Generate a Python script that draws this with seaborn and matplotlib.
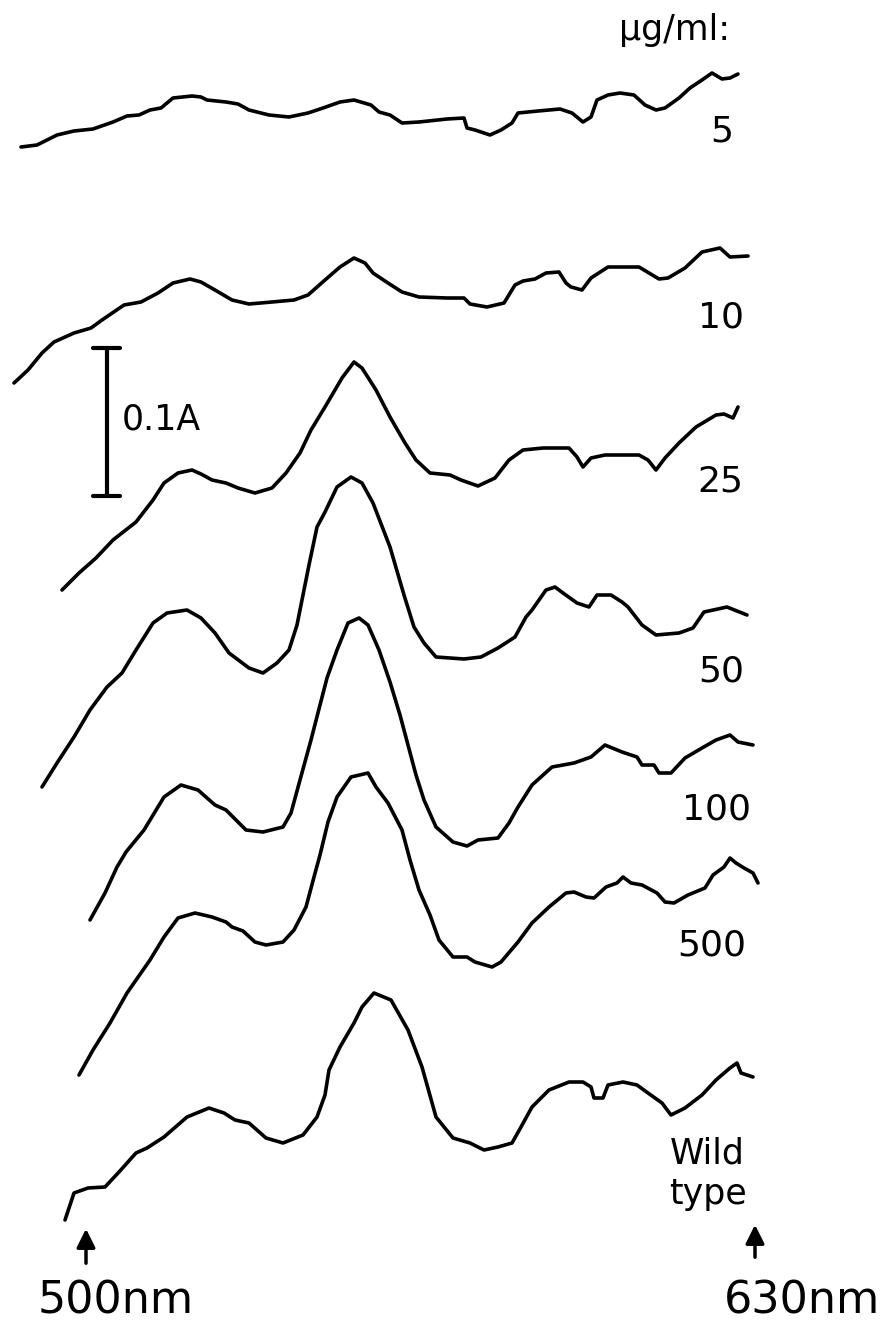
import numpy as np
import pandas as pd
import matplotlib
matplotlib.use("Agg")
import matplotlib.pyplot as plt
import seaborn as sns

# Spectra (stacked, in page pixel units: x right, y down)
x_5 = [21, 37, 57, 74, 93, 113, 127, 139, 150, 161, 173, 192, 201, 207, 226, 238, 249, 269, 289, 308,
       323, 340, 354, 371, 379, 390, 402, 419, 447, 464, 467, 475, 490, 501, 512, 518, 538, 560, 572, 583,
       591, 597, 608, 620, 634, 645, 656, 665, 679, 690, 702, 712, 722, 730, 738]
y_5 = [147, 145, 135, 131, 129, 122, 116, 115, 110, 108, 98, 96, 97, 100, 102, 104, 110, 115, 117, 113,
       108, 102, 100, 105, 112, 115, 123, 122, 119, 118, 128, 130, 135, 130, 123, 113, 111, 109, 113, 122,
       117, 100, 95, 93, 95, 105, 110, 108, 98, 88, 80, 73, 79, 78, 74]

x_10 = [14, 28, 42, 54, 74, 91, 102, 124, 141, 158, 173, 190, 201, 215, 232, 249, 272, 294, 308, 325,
        340, 354, 365, 373, 388, 402, 419, 447, 464, 470, 487, 504, 515, 523, 535, 546, 559, 566, 571, 582,
        591, 608, 639, 659, 668, 685, 702, 720, 730, 748]
y_10 = [383, 370, 353, 342, 333, 328, 320, 305, 302, 293, 283, 279, 282, 290, 300, 304, 302, 300, 295, 280,
        267, 258, 263, 273, 283, 292, 297, 298, 298, 304, 307, 303, 285, 281, 279, 273, 272, 283, 287, 290,
        278, 267, 267, 279, 278, 268, 252, 248, 257, 256]

x_25 = [62, 79, 96, 113, 136, 153, 164, 178, 192, 201, 212, 226, 238, 255, 272, 286, 300, 311, 325, 342,
        354, 362, 376, 390, 405, 416, 430, 450, 461, 478, 495, 509, 523, 543, 569, 577, 583, 591, 605, 639,
        648, 656, 665, 679, 696, 716, 724, 733, 738]
y_25 = [590, 573, 558, 540, 522, 500, 483, 473, 470, 474, 480, 483, 488, 493, 488, 473, 453, 430, 407, 378,
        362, 368, 390, 417, 443, 460, 473, 475, 480, 486, 478, 460, 450, 448, 448, 457, 467, 458, 455, 455,
        460, 470, 458, 443, 427, 415, 414, 418, 407]

x_50 = [42, 57, 74, 90, 107, 122, 136, 153, 167, 187, 201, 215, 229, 249, 263, 277, 289, 297, 302, 309,
        317, 325, 337, 351, 362, 373, 390, 404, 414, 424, 436, 464, 481, 498, 515, 526, 532, 546, 555, 563,
        577, 589, 597, 611, 622, 628, 642, 656, 679, 693, 704, 727, 747]
y_50 = [787, 763, 737, 710, 687, 673, 650, 623, 613, 610, 618, 633, 653, 668, 673, 663, 650, 625, 600, 565,
        527, 512, 487, 477, 483, 503, 547, 595, 627, 643, 657, 659, 657, 648, 637, 617, 610, 590, 587, 593,
        603, 607, 595, 595, 602, 607, 625, 635, 633, 628, 612, 607, 615]

x_100 = [90, 105, 117, 126, 144, 164, 181, 198, 215, 226, 238, 246, 263, 283, 291, 300, 311, 320, 327, 337,
         348, 359, 368, 379, 390, 400, 408, 416, 424, 436, 453, 467, 478, 498, 509, 518, 532, 552, 574, 591,
         605, 622, 637, 642, 654, 659, 671, 685, 702, 716, 730, 738, 753]
y_100 = [920, 893, 867, 852, 830, 797, 785, 790, 805, 810, 822, 830, 832, 827, 813, 780, 740, 705, 678, 650,
         623, 618, 625, 650, 682, 715, 745, 775, 800, 827, 842, 846, 840, 838, 823, 807, 785, 767, 763, 757,
         745, 752, 757, 765, 765, 773, 773, 758, 748, 740, 735, 742, 745]

x_500 = [79, 93, 110, 127, 150, 164, 178, 195, 212, 226, 232, 243, 255, 266, 283, 294, 306, 314, 320, 328,
         337, 351, 368, 376, 388, 402, 410, 419, 430, 439, 453, 467, 475, 492, 501, 518, 532, 549, 566,
         574, 586, 594, 606, 617, 623, 631, 642, 657, 665, 674, 688, 705, 713, 724, 730, 736, 744, 753, 758]
y_500 = [1075, 1050, 1023, 993, 960, 937, 918, 913, 917, 922, 927, 931, 942, 945, 942, 930, 907, 877, 855, 822,
         797, 777, 773, 787, 803, 830, 860, 890, 915, 940, 957, 957, 962, 967, 962, 942, 923, 907, 893,
         892, 897, 898, 887, 883, 877, 883, 885, 893, 902, 903, 895, 888, 875, 867, 858, 863, 868, 873, 883]

x_wt = [65, 74, 88, 105, 119, 136, 147, 164, 187, 209, 224, 235, 249, 266, 283, 303, 317, 325, 329, 340,
        354, 362, 374, 391, 408, 422, 436, 453, 470, 484, 498, 512, 521, 532, 549, 569, 583, 591, 594, 603,
        608, 623, 637, 648, 662, 671, 685, 702, 716, 730, 737, 741, 753]
y_wt = [1220, 1193, 1188, 1187, 1172, 1153, 1148, 1137, 1117, 1108, 1113, 1120, 1123, 1138, 1143, 1135, 1117, 1095, 1070, 1047,
        1023, 1007, 993, 1000, 1030, 1067, 1117, 1138, 1143, 1150, 1147, 1143, 1127, 1107, 1090, 1082, 1082, 1087, 1098, 1098,
        1085, 1082, 1085, 1093, 1103, 1115, 1108, 1095, 1080, 1068, 1063, 1073, 1077]

conc_labels = ["5", "10", "25", "50", "100", "500"]
label_x = [722, 721, 720, 721, 716, 712]
label_y = [132, 318, 482, 672, 810, 945]

traces = [(x_5, y_5), (x_10, y_10), (x_25, y_25), (x_50, y_50),
          (x_100, y_100), (x_500, y_500), (x_wt, y_wt)]
names = conc_labels + ["Wild type"]

frames = []
for name, (xs, ys) in zip(names, traces):
    frames.append(pd.DataFrame({"x": xs, "y": ys, "sample": name}))
df = pd.concat(frames, ignore_index=True)

sns.set_style("white")
plt.rcParams["font.family"] = ["DejaVu Sans"]
plt.rcParams["text.color"] = "black"

fig = plt.figure(figsize=(8.83, 13.2), dpi=100)
ax = fig.add_axes([0, 0, 1, 1])

for name in names:
    sub = df[df["sample"] == name]
    sns.lineplot(data=sub, x="x", y="y", sort=False, estimator=None,
                 color="black", linewidth=2.6, ax=ax, legend=False,
                 solid_joinstyle="round", solid_capstyle="round")

ax.set_xlim(0, 883)
ax.set_ylim(1320, 0)
ax.axis("off")

# concentration labels
ax.text(730, 40, "\u03bcg/ml:", fontsize=25, ha="right", va="baseline", color="black")
for lab, lx, ly in zip(conc_labels, label_x, label_y):
    ax.text(lx, ly, lab, fontsize=26, ha="center", va="center", color="black")
ax.text(707, 1154, "Wild", fontsize=25, ha="center", va="center", color="black")
ax.text(708, 1194, "type", fontsize=25, ha="center", va="center", color="black")

# scale bar 0.1 A
ax.plot([107, 107], [348, 496], color="black", lw=3)
ax.plot([93, 120], [348, 348], color="black", lw=3)
ax.plot([93, 120], [496, 496], color="black", lw=3)
ax.text(122, 420, "0.1A", fontsize=25, ha="left", va="center", color="black")

# wavelength markers
arrow = dict(arrowstyle="-|>", color="black", lw=2.5, mutation_scale=28)
ax.annotate("", xy=(86, 1226), xytext=(86, 1266), arrowprops=arrow)
ax.annotate("", xy=(755, 1222), xytext=(755, 1260), arrowprops=arrow)
ax.text(38, 1313, "500nm", fontsize=32, ha="left", va="baseline", color="black")
ax.text(880, 1313, "630nm", fontsize=32, ha="right", va="baseline", color="black")

fig.savefig("out.png", dpi=100, facecolor="white")
